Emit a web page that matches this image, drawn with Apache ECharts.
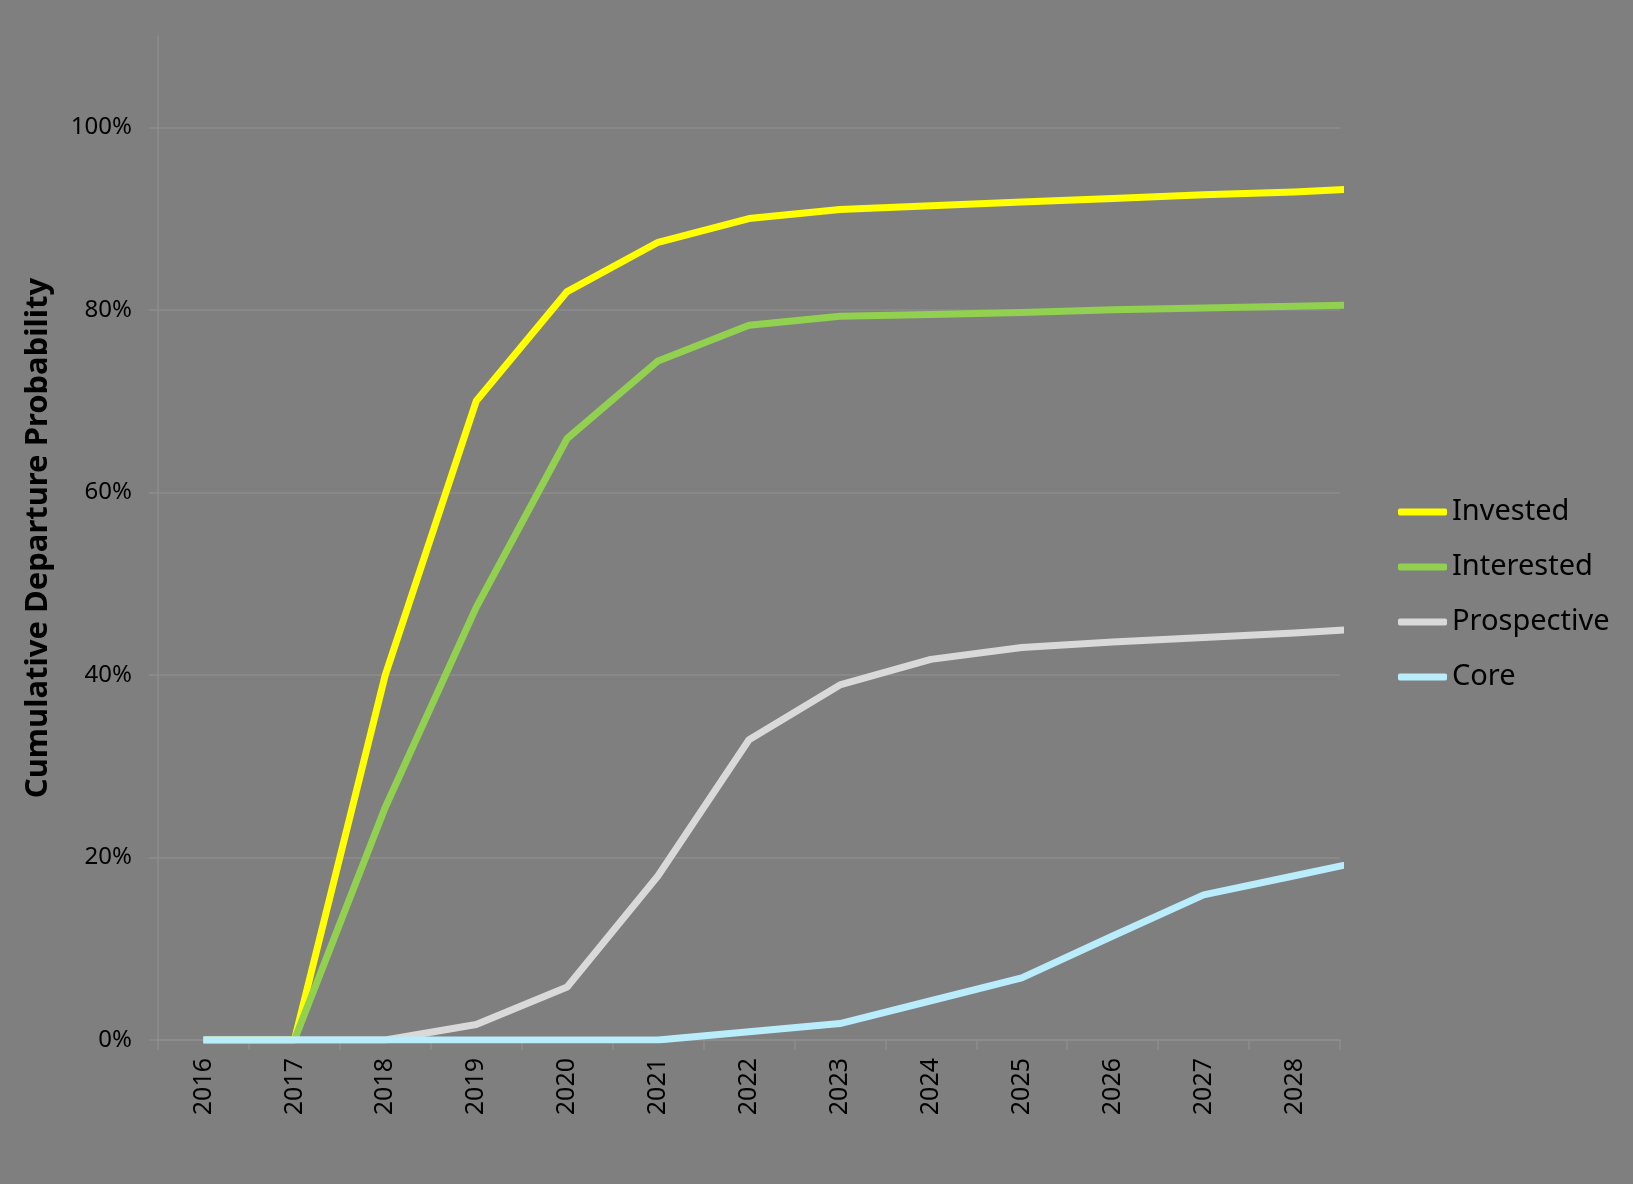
<!DOCTYPE html>
<html>
<head>
<meta charset="utf-8">
<script src="https://cdn.jsdelivr.net/npm/echarts@6/dist/echarts.min.js"></script>
<style>
html,body{margin:0;padding:0;background:#7f7f7f;}
#chart{width:1633px;height:1184px;}
</style>
</head>
<body>
<div id="chart"></div>
<script>
// Category labels shown on the x axis
const years = ['2016','2017','2018','2019','2020','2021','2022','2023','2024','2025','2026','2027','2028'];
// Series values (%), one per year 2016..2028, plus an estimated 2029 value
// (the lines run on past 2028 to the right edge of the plot, where they are clipped)
const invested    = [0, 0, 40.0, 70.0, 82.0, 87.4, 90.0, 91.0, 91.4, 91.8, 92.2, 92.6, 92.9, 93.4];
const interested  = [0, 0, 25.5, 47.4, 65.9, 74.4, 78.3, 79.3, 79.5, 79.7, 80.0, 80.2, 80.4, 80.6];
const prospective = [0, 0, 0, 1.7, 5.8, 18.0, 32.9, 38.9, 41.7, 43.0, 43.6, 44.1, 44.6, 45.2];
const core        = [0, 0, 0, 0, 0, 0, 0.9, 1.8, 4.3, 6.8, 11.4, 15.9, 18.0, 20.1];
const seriesNames = ['Invested','Interested','Prospective','Core'];
const yTicks = [0, 20, 40, 60, 80, 100];

const colors = ['#ffff00','#92d050','#d9d9d9','#b9edfb'];
const FONT = 'Noto Sans';
const gridCol = '#8d8d8d';

function pts(arr){ return arr.map((v,i)=>[i,v]); }

const chart = echarts.init(document.getElementById('chart'));
const allData = [invested, interested, prospective, core];
chart.setOption({
  backgroundColor:'#7f7f7f',
  animation:false,
  grid:{left:158, right:293, top:36, bottom:144, containLabel:false},
  legend:{
    orient:'vertical', left:1393, top:492, itemGap:25,
    itemWidth:49, itemHeight:7, icon:'roundRect',
    data:seriesNames.map((n,i)=>({name:n, itemStyle:{color:colors[i]}})),
    textStyle:{fontFamily:FONT, fontSize:29, color:'#000', lineHeight:30}
  },
  xAxis:[{
    type:'category', data:years, boundaryGap:true,
    axisLine:{show:true, lineStyle:{color:gridCol, width:1.5}},
    axisTick:{show:true, length:10, interval:0, lineStyle:{color:gridCol, width:1.5}},
    axisLabel:{rotate:90, interval:0, margin:18, fontFamily:FONT, fontSize:25, color:'#000'},
    splitLine:{show:false}
  },{
    type:'value', min:-0.5, max:12.5, show:false
  }],
  yAxis:{
    type:'value', min:0, max:110, interval:20,
    name:'Cumulative Departure Probability', nameLocation:'middle', nameGap:104,
    nameTextStyle:{fontFamily:FONT, fontSize:31, fontWeight:'bold', color:'#000'},
    axisLine:{show:true, onZero:false, lineStyle:{color:gridCol, width:1.5}},
    axisTick:{show:true, length:9, customValues:yTicks, lineStyle:{color:gridCol, width:1.5}},
    splitLine:{show:true, lineStyle:{color:[gridCol,gridCol,gridCol,gridCol,gridCol,gridCol,'rgba(0,0,0,0)'], width:1.5}},
    axisLabel:{margin:26, fontFamily:FONT, fontSize:24, color:'#000',
      formatter:function(v){ return yTicks.indexOf(v) >= 0 ? v + '%' : ''; }}
  },
  series: seriesNames.map((n,i)=>({
    name:n, type:'line', xAxisIndex:1, data:pts(allData[i]),
    symbol:'none', showSymbol:false, clip:true,
    lineStyle:{color:colors[i], width:7, join:'round'},
    itemStyle:{color:colors[i]}
  }))
});
</script>
</body>
</html>
